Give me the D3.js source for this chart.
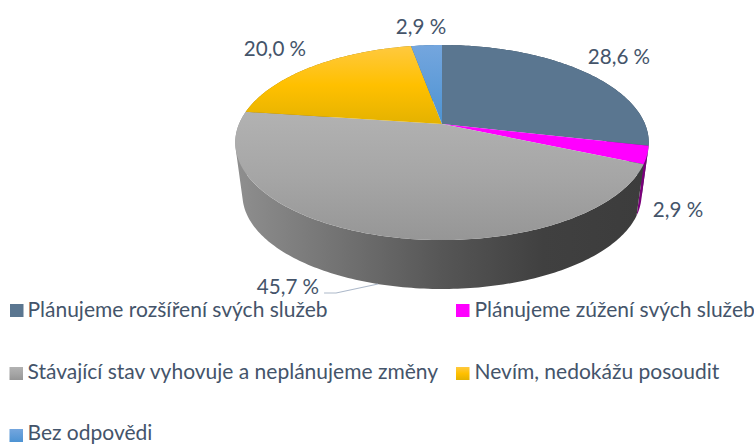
<!DOCTYPE html>
<html>
<head>
<meta charset="utf-8">
<script src="https://cdn.jsdelivr.net/npm/d3@7"></script>
<style>
html,body{margin:0;padding:0;background:#fff;overflow:hidden}
text{font-family:Lato,"Noto Sans",sans-serif;fill:#44546a}
</style>
</head>
<body>
<script>
"use strict";
const categories = ["Plánujeme rozšíření svých služeb","Plánujeme zúžení svých služeb","Stávající stav vyhovuje a neplánujeme změny","Nevím, nedokážu posoudit","Bez odpovědi"];
const values = [28.6,2.9,45.7,20.0,2.9];
const valueLabels = ["28,6 %","2,9 %","45,7 %","20,0 %","2,9 %"];

const W = 754, H = 444;
const fills = ["#5a7690","#ff00ff","url(#gGray)","url(#gYellow)","url(#gBlue)"];
const sideFills = ["#34485a","#7a007a","url(#gSide)","#a07800","#2f6aa0"];
const legendFills = ["#5a7690","#ff00ff","url(#lGray)","url(#lYellow)","url(#lBlue)"];

// tilted disc: homography of the unit circle, so the apex sits above the ellipse middle like in the original
const CX = 442, CY = 124, RX = 203, RY = 94, PERSP = 0.19;
const BASE_CY = 177, BASE_S = 0.965;
function rim(a, base){
  const x = Math.sin(a), y = -Math.cos(a), w = 1 - PERSP*y, s = base ? BASE_S : 1;
  return [CX + s*RX*x/w, (base ? BASE_CY : CY) + s*RY*y/w];
}
const apex = (base)=> [CX, base ? BASE_CY : CY];

const pie = d3.pie().sort(null)(values);
const STEP = Math.PI/180;
const arcAngles = (d)=>{ const r = d3.range(d.startAngle, d.endAngle, STEP); r.push(d.endAngle); return r; };
const line = d3.line();

const svg = d3.select("body").append("svg").attr("width",W).attr("height",H).style("display","block");
const defs = svg.append("defs");
function grad(id, stops, attrs){
  const g = defs.append("linearGradient").attr("id",id);
  Object.entries(attrs).forEach(([k,v])=> g.attr(k,v));
  stops.forEach(([o,c])=> g.append("stop").attr("offset",o).attr("stop-color",c));
}
const vert = {x1:0,y1:0,x2:0,y2:1};
const GRAY = [[0,"#b2b2b2"],[0.5,"#a6a6a6"],[1,"#969696"]];
const YELLOW = [[0,"#ffc93f"],[0.5,"#ffc000"],[1,"#e4b200"]];
const BLUE = [[0,"#74a6de"],[1,"#4d93d3"]];
grad("gGray", GRAY, vert); grad("gYellow", YELLOW, vert); grad("gBlue", BLUE, vert);
grad("lGray", GRAY, vert); grad("lYellow", YELLOW, vert); grad("lBlue", BLUE, vert);
grad("gSide", [[0,"#8e8e8e"],[0.5,"#565656"],[0.75,"#404040"],[1,"#3c3c3c"]], {gradientUnits:"userSpaceOnUse",x1:CX-RX,y1:0,x2:CX+RX,y2:0});

// wall = many small quads in one path; winding is normalized, otherwise overlaps at the tangent cancel out
function quad(a0, a1){
  const q = [rim(a0,false),rim(a1,false),rim(a1,true),rim(a0,true)];
  return line(d3.polygonArea(q) < 0 ? q.reverse() : q)+"Z";
}
svg.append("g").selectAll("path").data(pie).join("path")
  .attr("fill",(d,i)=> sideFills[i])
  .attr("d",(d)=>{ const as = arcAngles(d); return as.slice(1).map((a,i)=> quad(as[i],a)).join(""); });

svg.append("g").selectAll("path").data(pie).join("path")
  .attr("fill",(d,i)=> fills[i])
  .attr("d",(d)=> line([apex(false), ...arcAngles(d).map((a)=> rim(a,false))])+"Z");

// leader of the big slice, from the lower rim at mid-angle to its label
const leadP = rim((pie[2].startAngle+pie[2].endAngle)/2, true);
svg.append("path").attr("fill","none").attr("stroke","#adb9ca").attr("stroke-width",1.2)
  .attr("d", line([leadP,[leadP[0]-42,leadP[1]+9],[leadP[0]-54,leadP[1]+9]]));

const labelXY = [[619,64],[678,217],[288,294],[275,56],[421,34]];
svg.append("g").selectAll("text").data(valueLabels).join("text")
  .attr("x",(d,i)=> labelXY[i][0]).attr("y",(d,i)=> labelXY[i][1])
  .attr("text-anchor","middle").attr("font-size",20.6).text((d)=>d);

const legendXY = [[10,304],[456,304],[9.5,367],[456,367],[9.5,429]];
const legendBase = [317,317,378.5,378.5,439.5];
const lg = svg.append("g").selectAll("g").data(categories).join("g");
lg.append("rect").attr("x",(d,i)=> legendXY[i][0]).attr("y",(d,i)=> legendXY[i][1])
  .attr("width",13.5).attr("height",13).attr("fill",(d,i)=> legendFills[i]);
lg.append("text").attr("x",(d,i)=> i%2===0 ? 27.5 : 474.5).attr("y",(d,i)=> legendBase[i])
  .attr("font-size",21).text((d)=>d);
</script>
</body>
</html>
